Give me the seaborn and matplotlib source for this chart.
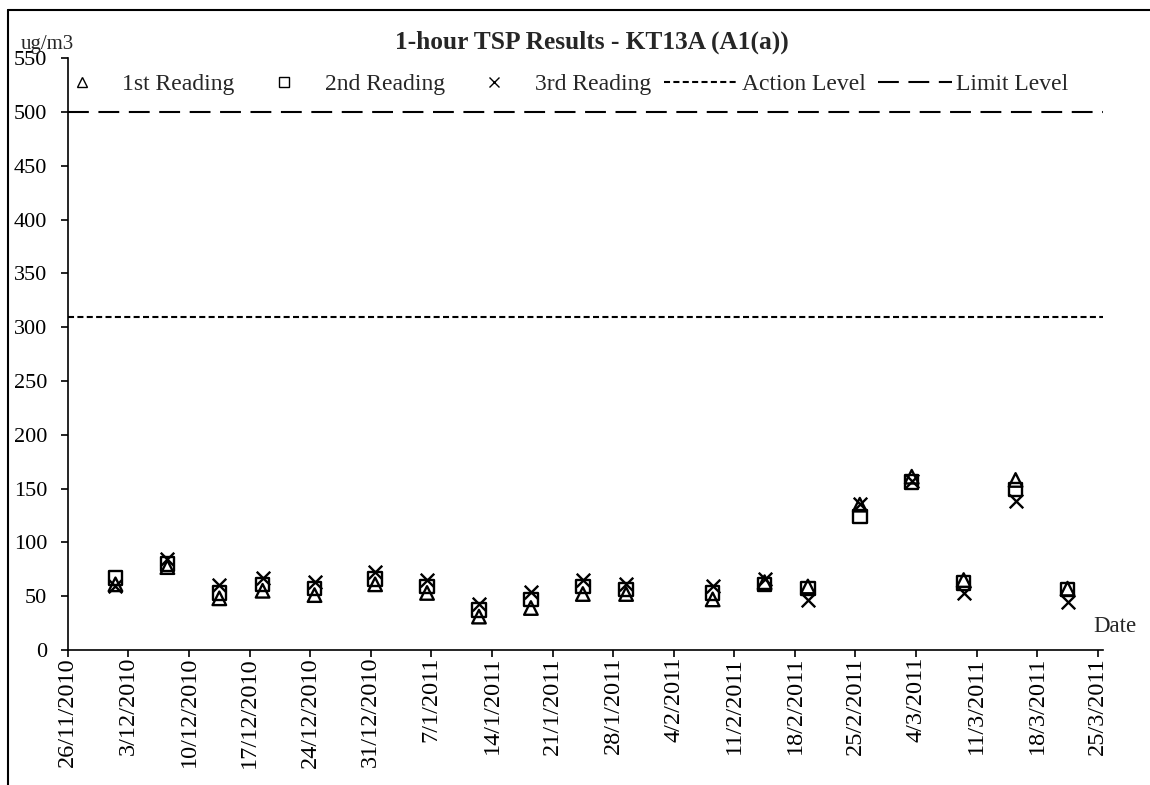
import pandas as pd
import seaborn as sns
import matplotlib.pyplot as plt
from matplotlib.lines import Line2D

# Sample dates and the three 1-hour TSP readings (ug/m3)
dates = ['2010-12-01', '2010-12-07', '2010-12-13', '2010-12-18', '2010-12-24',
         '2010-12-31', '2011-01-06', '2011-01-12', '2011-01-18', '2011-01-24',
         '2011-01-29', '2011-02-08', '2011-02-14', '2011-02-19', '2011-02-25',
         '2011-03-03', '2011-03-09', '2011-03-15', '2011-03-21']
first_reading = [61, 77, 48, 55, 51, 61, 53, 31, 39, 52, 52, 47, 63, 59, 135, 161, 65, 158, 57]
second_reading = [67, 80, 53, 61, 57, 66, 59, 37, 47, 59, 56, 53, 61, 57, 124, 156, 62, 149, 56]
third_reading = [59, 85, 60, 67, 63, 72, 65, 43, 54, 65, 61, 59, 66, 46, 136, 157, 53, 138, 45]
action_level = 309
limit_level = 500
tick_start, tick_end = '2010-11-26', '2011-03-25'

#%%
df = pd.DataFrame({'Date': pd.to_datetime(dates),
                   '1st Reading': first_reading,
                   '2nd Reading': second_reading,
                   '3rd Reading': third_reading})
df = df.melt(id_vars='Date', var_name='Reading', value_name='TSP')
# excel draws each day's point in the middle of the day
df['Date'] = df['Date'] + pd.Timedelta(hours=12)

#%%
sns.set_style('ticks')
plt.rcParams['font.family'] = ['Liberation Serif', 'DejaVu Serif']

fig = plt.figure(figsize=(11.5, 7.85), dpi=100)
ax = fig.add_axes([0.059, 0.172, 0.9, 0.754])

markers = {'1st Reading': '^', '2nd Reading': 's', '3rd Reading': 'x'}
for name, m in markers.items():
    sub = df[df['Reading'] == name]
    if m == 'x':
        sns.scatterplot(data=sub, x='Date', y='TSP', marker=m, color='black',
                        s=95, linewidth=1.7, ax=ax, legend=False)
    else:
        sns.scatterplot(data=sub, x='Date', y='TSP', marker=m, color='black',
                        facecolor='none', edgecolor='black', s=95,
                        linewidth=1.7, ax=ax, legend=False)

action_dash = (2.9, 1.6)
limit_dash = (10, 4.6)
ax.axhline(action_level, color='black', lw=1.5, dashes=action_dash)
ax.axhline(limit_level, color='black', lw=1.5, dashes=limit_dash)

ticks = pd.date_range(tick_start, tick_end, freq='7D')
ax.set_xticks(ticks)
ax.set_xticklabels([f'{d.day}/{d.month}/{d.year}' for d in ticks], rotation=90)
ax.set_xlim(pd.Timestamp(tick_start), pd.Timestamp(tick_end) + pd.Timedelta(hours=14))
ax.set_ylim(0, 550)
ax.set_yticks(range(0, 551, 50))
ax.set_xlabel('')
ax.set_ylabel('')
sns.despine(ax=ax)
for side in ['left', 'bottom']:
    ax.spines[side].set_color('black')
    ax.spines[side].set_linewidth(1.2)
ax.tick_params(axis='y', direction='out', length=5, width=1.2, color='black',
               labelsize=16, labelcolor='black', pad=10)
ax.tick_params(axis='x', direction='out', length=5, width=1.2, color='black',
               labelsize=17.5, labelcolor='black', pad=0)

h1 = Line2D([], [], ls='none', marker='^', ms=6.5, mfc='none', mec='black', mew=1)
h2 = Line2D([], [], ls='none', marker='s', ms=6.5, mfc='none', mec='black', mew=1)
h3 = Line2D([], [], ls='none', marker='x', ms=6.5, mec='black', mew=1)
h4 = Line2D([], [], color='black', lw=1.5, dashes=action_dash)
h5 = Line2D([], [], color='black', lw=1.5, dashes=limit_dash)
ax.legend(handles=[h1, h2, h3, h4, h5],
          labels=['1st Reading', '2nd Reading', '3rd Reading', 'Action Level', 'Limit Level'],
          ncol=5, frameon=False, loc='center left',
          bbox_to_anchor=(45 / 1150, 1 - 84 / 785), bbox_transform=fig.transFigure,
          borderpad=0, borderaxespad=0, handlelength=3.1, handletextpad=0.17,
          columnspacing=0.55, fontsize=17)

fig.text(592 / 1150, 1 - 42 / 785, '1-hour TSP Results - KT13A (A1(a))',
         ha='center', va='center', fontsize=18.3, fontweight='bold')
fig.text(21 / 1150, 1 - 44 / 785, 'ug/m3', ha='left', va='center', fontsize=15)
fig.text(1093 / 1150, 1 - 627 / 785, 'Date', ha='left', va='center', fontsize=16.5)

# chart area border (only left and top edges are visible in the crop)
fig.add_artist(Line2D([8 / 1150, 8 / 1150], [0, 1 - 10 / 785], transform=fig.transFigure,
                      color='black', lw=1.5))
fig.add_artist(Line2D([8 / 1150, 1], [1 - 10 / 785, 1 - 10 / 785], transform=fig.transFigure,
                      color='black', lw=1.5))

fig.savefig('out.png', dpi=100)
# %%
